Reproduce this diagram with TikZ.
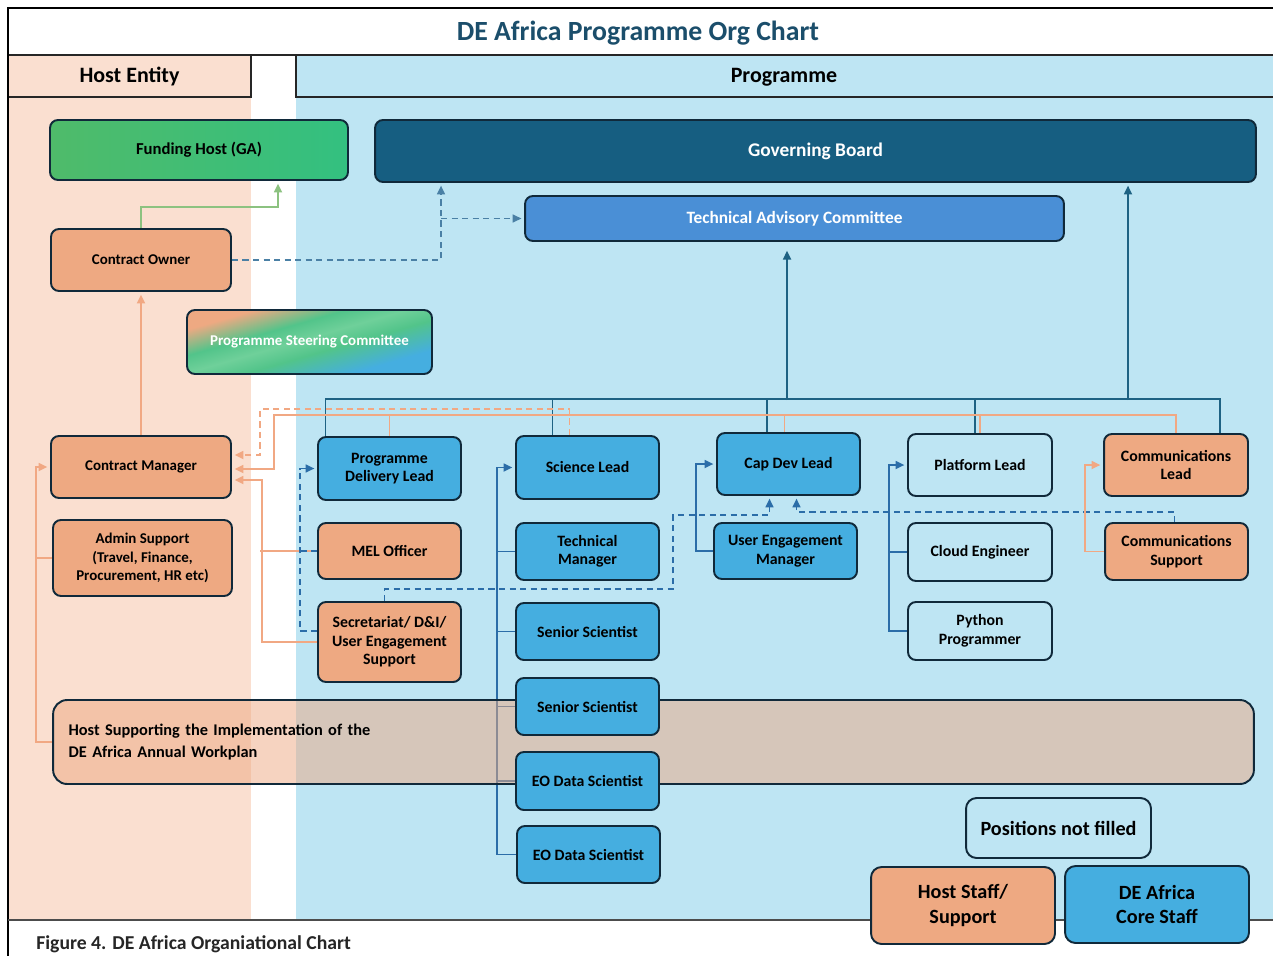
\documentclass[tikz,border=0pt]{standalone}
\usepackage{fontspec}
\setmainfont{Carlito}
\usepackage{tikz}
\usetikzlibrary{arrows.meta}
\usetikzlibrary{calc}

\definecolor{hostbg}{HTML}{FADFD0}
\definecolor{progbg}{HTML}{BEE5F3}
\definecolor{peach}{HTML}{EEA982}
\definecolor{coreblue}{HTML}{45AEE0}
\definecolor{boxedge}{HTML}{10293A}
\definecolor{boardblue}{HTML}{165E81}
\definecolor{tacblue}{HTML}{4A8FD6}
\definecolor{fundl}{HTML}{4FBB6A}
\definecolor{fundr}{HTML}{33C080}
\definecolor{pscgreen}{HTML}{52C48A}
\definecolor{pscmint}{HTML}{6FD09A}
\definecolor{titleblue}{HTML}{1B4E6B}
\definecolor{orgwire}{HTML}{F1A883}
\definecolor{buswire}{HTML}{1E6283}
\definecolor{trunkwire}{HTML}{2B6DA8}
\definecolor{stwire}{HTML}{4A80A5}
\definecolor{grnwire}{HTML}{8CC280}

\pgfdeclareverticalshading{pscshade}{100bp}{color(0bp)=(coreblue); color(30bp)=(coreblue);
  color(44bp)=(pscgreen); color(52bp)=(pscmint); color(60bp)=(pscgreen); color(72bp)=(peach); color(100bp)=(peach)}

\pgfdeclarelayer{back}
\pgfdeclarelayer{wires}
\pgfsetlayers{back,wires,main}

\tikzset{
  rolebox/.style={draw=boxedge, line width=1.1pt, rounded corners=4.5pt, align=center,
    inner sep=2pt, font=\bfseries\fontsize{9}{10.5}\selectfont},
  hostbox/.style={rolebox, fill=peach},
  corebox/.style={rolebox, fill=coreblue},
  openbox/.style={rolebox, fill=progbg},
  leftcol/.style={font=\bfseries\fontsize{8.5}{10.5}\selectfont},
  keybox/.style={font=\bfseries\fontsize{11.5}{14}\selectfont, rounded corners=6pt},
  band/.style={draw=boxedge, line width=1.1pt, rounded corners=8pt, fill=peach,
    fill opacity=0.5, text opacity=1, align=left, inner xsep=0.31cm,
    font=\bfseries\fontsize{9.3}{12}\selectfont},
  headtxt/.style={font=\bfseries\fontsize{12.5}{14}\selectfont},
  titletxt/.style={font=\bfseries\fontsize{15.8}{18}\selectfont, text=titleblue},
  frameline/.style={draw=black!85, line width=0.9pt},
  arr/.style={-{Triangle[length=5pt,width=4.5pt]}, shorten >=1.5pt},
  orgline/.style={draw=orgwire, line width=1.1pt},
  orgdash/.style={orgline, dash pattern=on 3.5pt off 2.5pt},
  busline/.style={draw=buswire, line width=1.1pt},
  trunk/.style={draw=trunkwire, line width=1.1pt},
  bldash/.style={trunk, line width=1pt, dash pattern=on 3.5pt off 2.5pt},
  stdash/.style={draw=stwire, line width=1pt, dash pattern=on 3.5pt off 2.5pt},
  grnline/.style={draw=grnwire, line width=1.1pt}
}

\begin{document}
\begin{tikzpicture}[x=0.02cm, y=-0.02cm]
\useasboundingbox (0,0) rectangle (1273,956);

% columns and frame
\begin{pgfonlayer}{back}
\fill[white] (0,0) rectangle (1273,956);
\fill[hostbg] (8,55) rectangle (251,920);
\fill[progbg] (296,55) rectangle (1273,920);
\draw[frameline] (8,97) -- (251,97) -- (251,55);
\draw[frameline] (296,55) -- (296,97) -- (1273,97);
\draw[frameline] (1273,55) -- (8,55);
\draw[line width=1.5pt] (1273,8) -- (8,8) -- (8,956);
\draw[frameline, draw=black!70] (8,920) -- (1273,920);
\end{pgfonlayer}

\node[titletxt] (title) at (638,33) {DE Africa Programme Org Chart};
\node[headtxt] (hosthead) at (129.5,77) {Host Entity};
\node[headtxt] (proghead) at (784,77) {Programme};

% governance
\node[rolebox, left color=fundl, right color=fundr, font=\bfseries\fontsize{9.5}{11}\selectfont,
  minimum width=5.96cm, minimum height=1.2cm] (fund) at (199,150) {Funding Host (GA)};
\node[rolebox, fill=boardblue, text=white, font=\bfseries\fontsize{11}{13}\selectfont,
  minimum width=17.62cm, minimum height=1.24cm] (board) at (815.5,151) {Governing Board};
\node[rolebox, fill=tacblue, text=white, font=\bfseries\fontsize{9.85}{11}\selectfont,
  minimum width=10.78cm, minimum height=0.9cm] (tac) at (794.5,218.5) {Technical Advisory Committee};

% host entity
\node[hostbox, leftcol, minimum width=3.6cm, minimum height=1.24cm] (cowner) at (141,260) {Contract Owner};
\node[rolebox, leftcol, shade, shading=pscshade, shading angle=16,
  text=white, minimum width=4.9cm, minimum height=1.28cm] (psc) at (309.5,342) {Programme Steering Committee};
\node[hostbox, leftcol, minimum width=3.6cm, minimum height=1.24cm] (cman) at (141,467) {Contract Manager};
\node[hostbox, leftcol, minimum width=3.58cm, minimum height=1.52cm] (admin) at (142.5,558) {Admin Support\\(Travel, Finance,\\Procurement, HR etc)};

\node[band, minimum width=24.02cm, minimum height=1.68cm, text width=23.4cm] (hostband) at (653.5,742)
  {Host Supporting the Implementation of the\\DE Africa Annual Workplan};

% programme
\node[corebox, minimum width=2.86cm, minimum height=1.26cm] (pdl) at (389.5,468.5) {Programme\\Delivery Lead};
\node[hostbox, minimum width=2.86cm, minimum height=1.12cm] (mel) at (389.5,551) {MEL Officer};
\node[hostbox, minimum width=2.86cm, minimum height=1.6cm] (sec) at (389.5,642) {Secretariat/ D\&I/\\User Engagement\\Support};

\node[corebox, minimum width=2.86cm, minimum height=1.26cm] (sci) at (587.5,467.5) {Science Lead};
\node[corebox, minimum width=2.86cm, minimum height=1.14cm] (tman) at (587.5,551.5) {Technical\\Manager};
\node[corebox, minimum width=2.86cm, minimum height=1.14cm] (ss1) at (587.5,631.5) {Senior Scientist};
\node[corebox, minimum width=2.86cm, minimum height=1.14cm] (ss2) at (587.5,706.5) {Senior Scientist};
\node[corebox, minimum width=2.86cm, minimum height=1.16cm] (eo1) at (587.5,781) {EO Data Scientist};
\node[corebox, minimum width=2.86cm, minimum height=1.14cm] (eo2) at (588.5,854.5) {EO Data Scientist};

\node[corebox, minimum width=2.86cm, minimum height=1.24cm] (cdl) at (788.5,464) {Cap Dev Lead};
\node[corebox, minimum width=2.86cm, minimum height=1.12cm] (uem) at (785.5,551) {User Engagement\\Manager};

\node[openbox, minimum width=2.88cm, minimum height=1.24cm] (plat) at (980,465) {Platform Lead};
\node[openbox, minimum width=2.88cm, minimum height=1.16cm] (cloud) at (980,552) {Cloud Engineer};
\node[openbox, minimum width=2.88cm, minimum height=1.16cm] (py) at (980,631) {Python\\Programmer};

\node[hostbox, minimum width=2.88cm, minimum height=1.24cm] (clead) at (1176,465) {Communications\\Lead};
\node[hostbox, minimum width=2.86cm, minimum height=1.14cm] (csup) at (1176.5,551.5) {Communications\\Support};

% key
\node[openbox, keybox, minimum width=3.7cm, minimum height=1.2cm] (nofill) at (1058.5,828) {Positions not filled};
\node[hostbox, keybox, minimum width=3.68cm, minimum height=1.54cm] (hstaff) at (963,905.5) {Host Staff/\\Support};
\node[corebox, keybox, minimum width=3.68cm, minimum height=1.54cm] (cstaff) at (1157,904.5) {DE Africa\\Core Staff};

\node[anchor=base west, inner sep=0, font=\bfseries\fontsize{11.2}{13}\selectfont, text=black!85] (caption) at (36,949) {Figure 4. DE Africa Organiational Chart};

\begin{pgfonlayer}{wires}
% host side
\draw[grnline, arr] (cowner.north) -- ++(0,-21) -| ($(fund.south)+(79,0)$);
\coordinate (cojog) at (441,260);
\draw[stdash, arr] (cowner.east) -- (cojog) -- (cojog |- board.south);
\draw[stdash, arr] (cojog |- tac.west) -- (tac.west);
\draw[orgline, arr] (cman.north) -- (cowner.south);
\coordinate (hostrail) at (36,742);
\draw[orgline, arr] (hostband.west) -- (hostrail) |- (cman.west);
\draw[orgline] (admin.west) -- (admin.west -| hostrail);

% programme bus
\draw[busline] ($(pdl.north)+(-64,0)$) |- ($(clead.north)+(44,-34)$) -- ($(clead.north)+(44,0)$);
\draw[busline] ($(sci.north)+(-35,0)$) -- ++(0,-36);
\draw[busline] ($(cdl.north)+(-21.5,0)$) -- ++(0,-33);
\draw[busline] ($(plat.north)+(-5,0)$) -- ++(0,-34);
\coordinate (tacup) at (787,400);
\coordinate (boardup) at (1128,400);
\draw[busline, arr, shorten >=5pt] (tacup) -- (tacup |- tac.south);
\draw[busline, arr] (boardup) -- (boardup |- board.south);

% lines back to the contract manager
\draw[orgline, arr] (clead.north) -- ++(0,-18) -| ($(cman.east)+(42,2)$) -- ($(cman.east)+(0,2)$);
\draw[orgline] (pdl.north) -- ++(0,-21);
\draw[orgline] ($(cdl.north)+(-4,0)$) -- ++(0,-17);
\draw[orgline] (plat.north) -- ++(0,-18);
\draw[orgdash, arr] ($(sci.north)+(-18,0)$) -- ++(0,-26) -| ($(cman.east)+(28,-12)$) -- ($(cman.east)+(0,-12)$);
\draw[orgline, arr] (sec.west) -| ($(cman.east)+(30,13)$) -- ($(cman.east)+(0,13)$);
\draw[orgline] (mel.west) -- ++(-57,0);

% dashed links
\draw[bldash, arr] ($(sec.west)+(0,-11)$) -- ++(-17,0) |- (pdl.west);
\draw[bldash] (mel.west) -- ++(-17,0);
\coordinate (sjog) at (673,515);
\draw[bldash, arr] ($(sec.north)+(-5,0)$) -- ++(0,-12) -| (sjog) -| ($(cdl.south)+(-19,0)$);
\draw[bldash, arr] ($(csup.north)+(-2,0)$) -- ++(0,-10) -| ($(cdl.south)+(8,0)$);

% reporting lines
\draw[trunk, arr] (uem.west) -- ++(-17,0) |- (cdl.west);
\draw[trunk, arr] (py.west) -- ++(-18,0) |- (plat.west);
\draw[trunk] (cloud.west) -- ++(-18,0);
\draw[trunk, arr] (eo2.west) -- ++(-19,0) |- (sci.west);
\foreach \n in {tman,ss1,ss2,eo1}
  \draw[trunk] (\n.west) -- ++(-18,0);
\draw[orgline, arr] (csup.west) -- ++(-19,0) |- (clead.west);
\end{pgfonlayer}
\end{tikzpicture}
\end{document}
